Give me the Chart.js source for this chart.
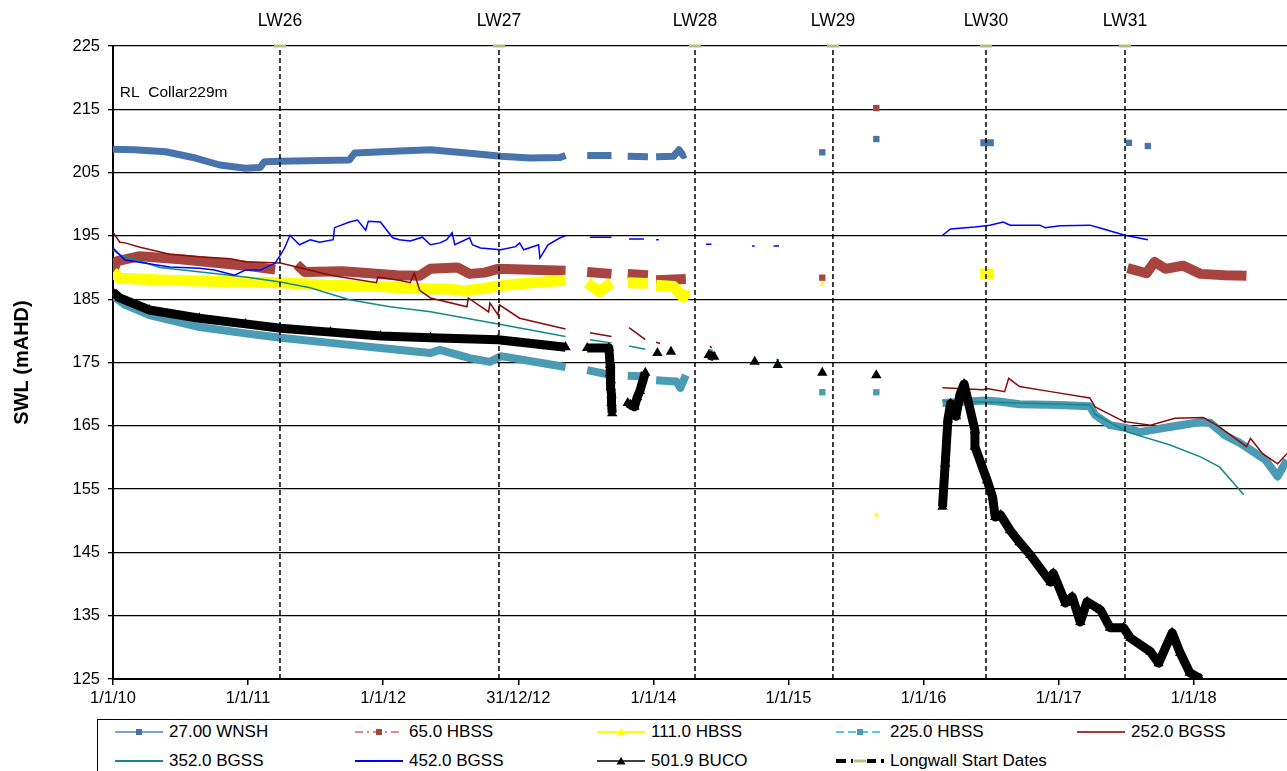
<!DOCTYPE html>
<html>
<head>
<meta charset="utf-8">
<title>SWL hydrograph</title>
<script src="https://cdn.jsdelivr.net/npm/chart.js@4.4.1/dist/chart.umd.min.js"></script>
<style>
  body { margin: 0; background: #fff; font-family: "Liberation Sans", Arial, sans-serif; }
  #wrap { position: relative; width: 1287px; height: 771px; overflow: hidden; }
  #legend { position: absolute; left: 97px; top: 719px; width: 1300px; height: 70px; border: 1px solid #000; box-sizing: border-box; }
  .item { position: absolute; height: 20px; display: flex; align-items: center; font-size: 17px; white-space: nowrap; color: #000; }
  .item svg { margin-right: 6px; }
</style>
</head>
<body>
<div id="wrap">
  <canvas id="chart" width="1293" height="712"></canvas>
  <div id="legend"></div>
</div>
<script>
// x values are decimal years, y values are SWL in mAHD; null = gap in the record
const xTicks = [2010, 2011, 2012, 2013, 2014, 2015, 2016, 2017, 2018];
const xTickLabels = ['1/1/10', '1/1/11', '1/1/12', '31/12/12', '1/1/14', '1/1/15', '1/1/16', '1/1/17', '1/1/18'];
const xMin = 2010, xMax = 2018.69;
const yMin = 125, yMax = 225, yStep = 10;

const lwDates = [2011.236, 2012.857, 2014.308, 2015.329, 2016.462, 2017.491];
const lwLabels = ['LW26', 'LW27', 'LW28', 'LW29', 'LW30', 'LW31'];

const noteText = 'RL  Collar229m';
const noteAt = [2010.05, 217.6];

const wnsh27 = [[2010.00,208.7],[2010.16,208.6],[2010.39,208.3],[2010.61,207.3],[2010.79,206.2],[2010.98,205.7],[2011.09,205.8],[2011.12,206.7],[2011.24,206.8],[2011.75,207.0],[2011.79,208.1],[2012.12,208.4],[2012.35,208.6],[2012.72,207.9],[2012.87,207.6],[2013.09,207.3],[2013.31,207.4],[2013.35,207.7],null,[2013.51,207.7],[2013.69,207.7],null,[2013.81,207.6],[2013.96,207.5],null,[2014.02,207.5],[2014.15,207.6],[2014.19,208.6],[2014.22,207.7],[2014.24,207.9],null,[2015.25,208.2],null,[2015.65,210.3],null,[2016.42,209.7],[2016.52,209.7],null,[2017.52,209.7],null,[2017.66,209.2]];

const hbss65 = [[2010.00,189.5],[2010.03,191.0],[2010.20,191.8],[2010.50,191.3],[2010.98,190.3],[2011.20,189.7],null,[2011.36,190.5],[2011.42,189.3],[2011.70,189.4],[2012.10,188.8],[2012.27,188.7],[2012.35,189.8],[2012.55,190.0],[2012.64,189.0],[2012.75,189.2],[2012.85,189.8],[2013.35,189.5],null,[2013.51,189.3],[2013.69,189.0],null,[2013.81,189.0],[2013.96,188.8],null,[2014.02,188.0],[2014.24,188.2],null,[2015.25,188.4],null,[2015.65,215.2],null,[2017.51,189.9],[2017.65,189.1],[2017.71,190.9],[2017.79,189.8],[2017.92,190.3],[2018.05,189.0],[2018.23,188.8],[2018.39,188.7]];

const hbss111 = [[2010.00,189.3],[2010.05,188.3],[2010.40,188.0],[2010.80,187.8],[2011.24,187.6],[2011.60,187.2],[2011.95,187.0],[2012.35,186.6],[2012.50,186.6],[2012.60,186.3],[2012.90,187.2],[2013.05,187.5],[2013.35,188.0],null,[2013.51,187.6],[2013.60,186.2],[2013.69,187.6],null,[2013.81,187.6],[2013.96,187.5],null,[2014.02,187.2],[2014.15,187.0],[2014.22,185.3],[2014.24,186.5],null,[2015.25,187.4],null,[2015.65,150.9],null,[2016.42,189.0],[2016.52,189.0]];

const hbss225 = [[2010.00,185.5],[2010.09,184.1],[2010.27,182.5],[2010.64,180.6],[2010.98,179.6],[2011.24,178.9],[2011.61,178.1],[2011.98,177.3],[2012.35,176.5],[2012.42,177.0],[2012.64,175.7],[2012.79,175.1],[2012.87,176.0],[2013.35,174.3],null,[2013.51,173.8],[2013.69,173.0],null,[2013.81,172.9],[2013.96,172.8],null,[2014.02,172.2],[2014.17,172.0],[2014.20,171.0],[2014.24,173.0],null,[2015.25,170.3],null,[2015.65,170.3],null,[2016.14,168.6],[2016.46,169.0],[2016.57,168.8],[2016.71,168.4],[2017.01,168.3],[2017.23,168.1],[2017.27,166.7],[2017.38,165.1],[2017.49,164.7],[2017.60,164.0],[2017.82,164.8],[2018.05,165.6],[2018.12,165.5],[2018.23,163.5],[2018.34,162.3],[2018.42,161.2],[2018.53,159.6],[2018.62,157.0],[2018.69,159.6]];

const bgss252 = [[2010.00,195.6],[2010.05,194.0],[2010.09,193.9],[2010.20,193.2],[2010.42,192.1],[2010.64,191.7],[2010.87,191.4],[2010.98,190.9],[2011.24,190.7],[2011.61,188.8],[2011.95,187.6],[2011.96,188.5],[2012.12,188.0],[2012.20,187.6],[2012.23,189.1],[2012.27,186.4],[2012.35,185.2],[2012.62,183.8],[2012.63,185.2],[2012.78,183.0],[2012.79,184.4],[2012.85,182.5],[2012.86,184.1],[2013.01,182.0],[2013.35,180.3],null,[2013.53,179.7],[2013.69,179.1],null,[2013.82,180.5],[2013.94,178.6],null,[2014.02,178.2],[2014.05,178.0],null,[2014.42,177.6],[2014.43,177.3],null,[2016.14,171.0],[2016.44,170.7],[2016.47,170.9],[2016.60,170.4],[2016.63,172.5],[2016.71,171.2],[2016.94,170.4],[2017.23,169.4],[2017.27,168.0],[2017.48,165.7],[2017.68,165.1],[2017.86,166.2],[2018.07,166.3],[2018.17,165.1],[2018.34,162.5],[2018.39,161.7],[2018.42,163.0],[2018.51,160.6],[2018.62,159.0],[2018.69,160.6]];

const bgss352 = [[2010.00,192.8],[2010.05,192.0],[2010.13,191.5],[2010.35,190.0],[2010.98,188.5],[2011.24,187.7],[2011.46,186.8],[2011.75,184.9],[2012.05,183.8],[2012.35,183.0],[2012.85,181.1],[2013.35,179.1],null,[2013.53,178.6],[2013.69,178.1],null,[2013.82,177.6],[2013.94,177.1],null,[2014.41,177.0],[2014.44,176.9],null,[2014.91,175.5],[2014.93,175.4],null,[2016.14,168.9],[2016.71,168.6],[2017.23,168.3],[2017.27,166.8],[2017.51,164.0],[2017.82,162.0],[2018.05,160.1],[2018.19,158.5],[2018.37,154.1]];

const bgss452 = [[2010.00,193.1],[2010.05,192.0],[2010.09,191.2],[2010.42,190.1],[2010.64,189.9],[2010.75,189.6],[2010.90,188.8],[2010.98,189.6],[2011.09,189.6],[2011.20,190.7],[2011.24,192.0],[2011.27,193.1],[2011.31,195.1],[2011.38,193.6],[2011.46,194.4],[2011.53,194.0],[2011.63,194.4],[2011.64,196.3],[2011.75,197.2],[2011.81,197.5],[2011.87,195.9],[2011.89,197.3],[2011.98,197.2],[2012.07,194.7],[2012.12,194.4],[2012.20,194.2],[2012.29,194.8],[2012.35,193.6],[2012.42,193.9],[2012.47,194.4],[2012.51,195.5],[2012.53,193.6],[2012.64,194.7],[2012.66,193.6],[2012.72,193.1],[2012.87,192.8],[2012.98,193.3],[2013.01,193.9],[2013.04,192.8],[2013.15,193.6],[2013.16,191.5],[2013.22,193.6],[2013.31,194.7],[2013.35,195.0],null,[2013.53,194.8],[2013.69,194.8],null,[2013.82,194.5],[2013.93,194.5],null,[2014.02,194.4],[2014.04,194.4],null,[2014.39,193.7],[2014.43,193.7],null,[2014.73,193.4],[2014.75,193.4],null,[2014.89,193.4],[2014.93,193.4],null,[2016.14,195.1],[2016.20,196.1],[2016.38,196.4],[2016.49,196.7],[2016.59,197.2],[2016.64,196.7],[2016.86,196.7],[2016.90,196.3],[2017.01,196.6],[2017.23,196.7],[2017.30,196.3],[2017.49,195.1],[2017.66,194.4]];

const buco = [[2010.00,186.1],[2010.05,185.2],[2010.27,183.3],[2010.64,182.0],[2010.98,181.1],[2011.24,180.4],[2011.61,179.8],[2011.98,179.2],[2012.35,178.9],[2012.85,178.6],[2013.35,177.4],null,[2013.51,177.3],[2013.67,177.3],[2013.68,174.6],[2013.68,173.3],[2013.685,172.2],[2013.685,171.1],[2013.69,169.9],[2013.69,168.6],[2013.695,167.0],null,[2013.81,168.6],[2013.86,168.0],[2013.88,169.5],[2013.90,170.5],[2013.94,173.4],null,[2014.03,176.5],null,[2014.13,176.7],null,[2014.41,176.2],[2014.45,175.9],null,[2014.75,175.1],null,[2014.92,174.6],null,[2015.25,173.4],null,[2015.65,173.0],null,[2016.14,152.2],[2016.16,159.0],[2016.18,166.0],[2016.20,168.5],[2016.22,167.0],[2016.24,166.5],[2016.27,170.0],[2016.30,171.6],[2016.38,164.3],[2016.38,161.7],[2016.47,156.4],[2016.51,153.8],[2016.53,150.6],[2016.57,150.9],[2016.64,148.5],[2016.71,146.6],[2016.79,144.6],[2016.94,140.3],[2016.96,141.7],[2017.05,137.0],[2017.10,138.0],[2017.16,134.0],[2017.21,137.2],[2017.31,135.9],[2017.38,133.1],[2017.48,133.1],[2017.53,131.5],[2017.68,129.3],[2017.74,127.5],[2017.84,132.3],[2017.90,129.1],[2017.97,126.0],[2018.05,125.0]];

const FONT = '"Liberation Sans", Arial, sans-serif';
Chart.defaults.font.family = FONT;
Chart.defaults.color = '#000';

function toPoints(list) {
    const pts = [];
    let lastX = xMin;
    list.forEach(p => {
        if (p === null) {
            pts.push({ x: lastX, y: null });
        } else {
            pts.push({ x: p[0], y: p[1] });
            lastX = p[0];
        }
    });
    return pts;
}

// show a marker only where a reading stands alone
function loneRadius(r) {
    return (ctx) => {
        const d = ctx.dataset.data;
        const i = ctx.dataIndex;
        if (!d[i] || d[i].y === null) return 0;
        const prevGap = !d[i - 1] || d[i - 1].y === null;
        const nextGap = !d[i + 1] || d[i + 1].y === null;
        return prevGap && nextGap ? r : 0;
    };
}

const series = [
    { label: '27.00 WNSH', data: wnsh27, color: '#4874AB', width: 7, style: 'rect', radius: loneRadius(4.5) },
    { label: '65.0 HBSS', data: hbss65, color: '#A8443F', width: 10, style: 'rect', radius: loneRadius(4.5) },
    { label: '111.0 HBSS', data: hbss111, color: '#FFFF00', width: 11, style: 'triangle', radius: loneRadius(3) },
    { label: '225.0 HBSS', data: hbss225, color: '#4A9BB3', width: 8, style: 'rect', radius: loneRadius(4.5) },
    { label: '252.0 BGSS', data: bgss252, color: '#8B0A0A', width: 1.5, style: 'circle', radius: 0 },
    { label: '352.0 BGSS', data: bgss352, color: '#108A8A', width: 1.5, style: 'circle', radius: 0 },
    { label: '452.0 BGSS', data: bgss452, color: '#0000FF', width: 1.5, style: 'circle', radius: 0 },
    { label: '501.9 BUCO', data: buco, color: '#000000', width: 9, style: 'triangle', radius: 6 }
];

const datasets = series.map((s, i) => ({
    label: s.label,
    data: toPoints(s.data),
    borderColor: s.color,
    backgroundColor: s.color,
    borderWidth: s.width,
    borderJoinStyle: s.width > 3 ? 'round' : 'miter',
    pointStyle: s.style,
    pointRadius: s.radius,
    pointBorderWidth: 0,
    pointBackgroundColor: s.color,
    spanGaps: false,
    tension: 0,
    order: 20 - i
}));

// Longwall start dates: vertical dashed lines with a marker at the top
const lwPoints = [];
lwDates.forEach(d => {
    lwPoints.push({ x: d, y: yMin }, { x: d, y: yMax }, { x: d, y: null });
});
datasets.push({
    label: 'Longwall Start Dates',
    data: lwPoints,
    borderColor: '#000',
    borderWidth: 1.5,
    borderDash: [5, 3],
    pointStyle: 'line',
    pointRadius: (ctx) => (ctx.raw && ctx.raw.y === yMax ? 6 : 0),
    pointBorderColor: '#A9C47F',
    pointBorderWidth: 3,
    spanGaps: false,
    clip: false,
    order: 1
});

const textPlugin = {
    id: 'textPlugin',
    afterDraw(chart) {
        const { ctx, scales: { x, y } } = chart;
        ctx.save();
        ctx.fillStyle = '#000';
        ctx.textBaseline = 'middle';
        ctx.textAlign = 'center';
        ctx.font = '17.5px ' + FONT;
        lwDates.forEach((d, i) => ctx.fillText(lwLabels[i], x.getPixelForValue(d), 21));
        ctx.textAlign = 'left';
        ctx.font = '15.5px ' + FONT;
        ctx.fillText(noteText, x.getPixelForValue(noteAt[0]), y.getPixelForValue(noteAt[1]));
        ctx.restore();
    }
};

new Chart(document.getElementById('chart'), {
    type: 'line',
    data: { datasets },
    options: {
        responsive: false,
        animation: false,
        devicePixelRatio: 1,
        layout: { padding: { top: 46, right: 0, bottom: 0, left: 0 } },
        plugins: {
            legend: { display: false },
            tooltip: { enabled: false }
        },
        scales: {
            x: {
                type: 'linear',
                min: xMin,
                max: xMax,
                afterBuildTicks: (s) => { s.ticks = xTicks.map(v => ({ value: v })); },
                afterFit: (s) => { s.height = 33; },
                ticks: {
                    autoSkip: false,
                    maxRotation: 0,
                    minRotation: 0,
                    padding: 4,
                    font: { size: 16.5 },
                    color: '#000',
                    callback: (v, i) => xTickLabels[i]
                },
                grid: { drawOnChartArea: false, drawTicks: true, tickLength: 6, color: '#000', lineWidth: 1.5 },
                border: { color: '#000', width: 2 }
            },
            y: {
                min: yMin,
                max: yMax,
                afterFit: (s) => { s.width = 113; },
                ticks: { stepSize: yStep, padding: 8, font: { size: 16.5 }, color: '#000' },
                grid: { color: '#000', lineWidth: 1.3, tickLength: 5 },
                border: { color: '#000', width: 2 },
                title: {
                    display: true,
                    text: 'SWL (mAHD)',
                    font: { size: 20, weight: 'bold' },
                    color: '#000',
                    padding: { top: 10, bottom: 0 }
                }
            }
        }
    },
    plugins: [textPlugin]
});

// legend, laid out like the spreadsheet legend box
const legendSpecs = [
    { label: '27.00 WNSH', line: '#7FA2D4', dash: '', marker: 'rect', mColor: '#4874AB', lw: 2 },
    { label: '65.0 HBSS', line: '#D98C8A', dash: '8 4 2 4', marker: 'rect', mColor: '#A8443F', lw: 2 },
    { label: '111.0 HBSS', line: '#FFFF00', dash: '', marker: 'tri', mColor: '#FFFF00', lw: 2 },
    { label: '225.0 HBSS', line: '#55C8EE', dash: '8 4', marker: 'rect', mColor: '#4A9BB3', lw: 2 },
    { label: '252.0 BGSS', line: '#A33A3A', dash: '', marker: '', lw: 2 },
    { label: '352.0 BGSS', line: '#108A8A', dash: '', marker: '', lw: 2 },
    { label: '452.0 BGSS', line: '#0000FF', dash: '', marker: '', lw: 2 },
    { label: '501.9 BUCO', line: '#000000', dash: '', marker: 'tri', mColor: '#000000', lw: 1.5 },
    { label: 'Longwall Start Dates', line: '#000000', dash: '10 5', marker: 'lw', mColor: '#A9C47F', lw: 4 }
];
const colLeft = [17, 257, 499, 738, 979];
const rowTop = [2, 31];

const legendEl = document.getElementById('legend');
legendSpecs.forEach((s, i) => {
    const col = i % 5, row = Math.floor(i / 5);
    let marker = '';
    if (s.marker === 'rect') marker = `<rect x="21" y="3" width="6" height="6" fill="${s.mColor}"/>`;
    if (s.marker === 'tri') marker = `<polygon points="24,2 28.5,9.5 19.5,9.5" fill="${s.mColor}"/>`;
    if (s.marker === 'lw') marker = `<rect x="17" y="4" width="14" height="4" fill="#fff"/><line x1="18" y1="6" x2="30" y2="6" stroke="${s.mColor}" stroke-width="3"/>`;
    const dash = s.dash ? `stroke-dasharray="${s.dash}"` : '';
    const item = document.createElement('div');
    item.className = 'item';
    item.style.left = colLeft[col] + 'px';
    item.style.top = rowTop[row] + 'px';
    item.innerHTML = `<svg width="48" height="12"><line x1="0" y1="6" x2="48" y2="6" stroke="${s.line}" stroke-width="${s.lw}" ${dash}/>${marker}</svg><span>${s.label}</span>`;
    legendEl.appendChild(item);
});
</script>
</body>
</html>
